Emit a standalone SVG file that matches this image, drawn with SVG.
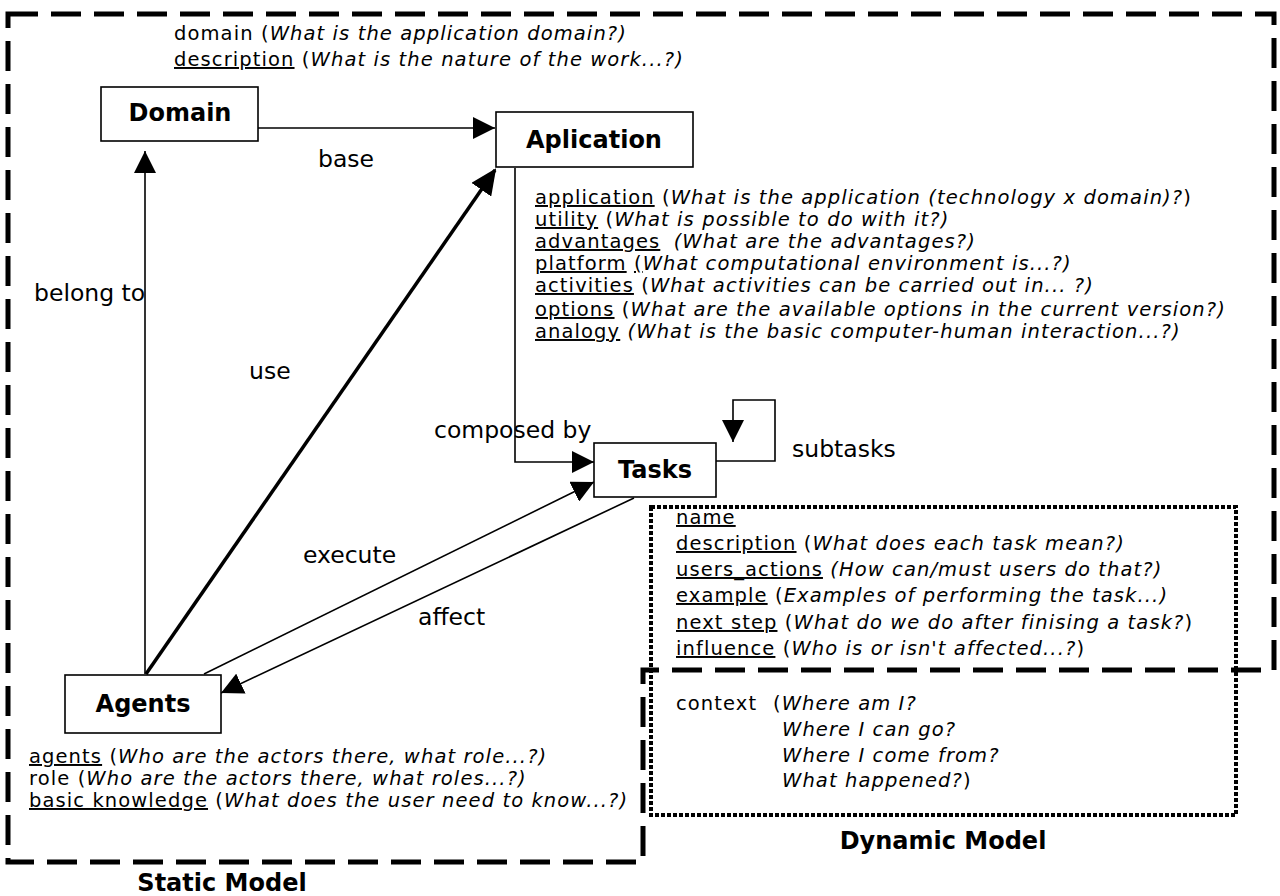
<svg xmlns="http://www.w3.org/2000/svg" width="1280" height="896" viewBox="0 0 1280 896">
<defs>
<style>
.t{font-family:"DejaVu Sans",Verdana,sans-serif;font-size:19.5px;letter-spacing:1.1px;fill:#000}
.i{font-style:italic}
.u{text-decoration:underline}
.lbl{font-family:"DejaVu Sans",Verdana,sans-serif;font-size:23.5px;fill:#000}
.node rect{fill:#fff;stroke:#000;stroke-width:1.6}
.node text{font-family:"DejaVu Sans",Verdana,sans-serif;font-weight:bold;font-size:24px;text-anchor:middle;fill:#000}
.title{font-family:"DejaVu Sans",Verdana,sans-serif;font-weight:bold;font-size:24px;text-anchor:middle;fill:#000}
.ln{fill:none;stroke:#000;stroke-width:1.6}
.thick{fill:none;stroke:#000;stroke-width:3.5}
.static{fill:none;stroke:#000;stroke-width:5;stroke-dasharray:30 13}
.dyn{fill:none;stroke:#000;stroke-width:4;stroke-dasharray:4 2}
</style>
<marker id="ah" markerUnits="userSpaceOnUse" markerWidth="22" markerHeight="22" refX="22" refY="11" orient="auto">
<path d="M0,0 L22,11 L0,22 z" fill="#000"/>
</marker>
<marker id="ahb" markerUnits="userSpaceOnUse" markerWidth="26" markerHeight="24" refX="24" refY="12" orient="auto">
<path d="M0,0 L26,12 L0,24 z" fill="#000"/>
</marker>
</defs>
<rect width="1280" height="896" fill="#fff"/>

<g id="static-model">
<path class="static" d="M8,14 H1274 V670 H643 V862 H8 Z"/>
<text class="title" x="222" y="891">Static Model</text>
</g>

<g id="dynamic-model">
<rect class="dyn" x="651" y="507" width="585" height="308"/>
<text class="title" x="943" y="849">Dynamic Model</text>
</g>

<g id="connectors">
<line class="ln" x1="257" y1="128" x2="495" y2="128" marker-end="url(#ah)"/>
<line class="ln" x1="145" y1="674" x2="145" y2="151" marker-end="url(#ah)"/>
<line class="thick" x1="146" y1="674" x2="495" y2="170" marker-end="url(#ahb)"/>
<path class="ln" d="M515,168 V462 H594" marker-end="url(#ah)"/>
<line class="ln" x1="204" y1="674" x2="594" y2="482" marker-end="url(#ah)"/>
<line class="ln" x1="634" y1="498" x2="221" y2="693" marker-end="url(#ah)"/>
<path class="ln" d="M716,461 H775 V400 H733 V442" marker-end="url(#ah)"/>
<text class="lbl" x="318" y="167">base</text>
<text class="lbl" x="34" y="301">belong to</text>
<text class="lbl" x="249" y="379">use</text>
<text class="lbl" x="434" y="438">composed by</text>
<text class="lbl" x="792" y="457">subtasks</text>
<text class="lbl" x="303" y="563">execute</text>
<text class="lbl" x="418" y="625">affect</text>
</g>

<g id="domain" class="node">
<rect x="101" y="87" width="157" height="54"/>
<text x="180" y="121">Domain</text>
</g>
<g id="domain-attrs">
<text class="t" x="174" y="40">domain (<tspan class="i">What is the application domain?)</tspan></text>
<text class="t" x="174" y="66"><tspan class="u">description</tspan> (<tspan class="i">What is the nature of the work...?)</tspan></text>
</g>

<g id="aplication" class="node">
<rect x="496" y="112" width="197" height="55"/>
<text x="594" y="148">Aplication</text>
</g>
<g id="aplication-attrs">
<text class="t" x="535" y="204"><tspan class="u">application</tspan> (<tspan class="i">What is the application (technology x domain)?</tspan>)</text>
<text class="t" x="535" y="226"><tspan class="u">utility</tspan> (<tspan class="i">What is possible to do with it?)</tspan></text>
<text class="t" x="535" y="248"><tspan class="u">advantages</tspan> <tspan class="i" dx="6">(What are the advantages?)</tspan></text>
<text class="t" x="535" y="270"><tspan class="u">platform</tspan> <tspan class="u">(</tspan><tspan class="i">What computational environment is...?)</tspan></text>
<text class="t" x="535" y="292"><tspan class="u">activities</tspan> (<tspan class="i">What activities can be carried out in... ?)</tspan></text>
<text class="t" x="535" y="316"><tspan class="u">options</tspan> (<tspan class="i">What are the available options in the current version?)</tspan></text>
<text class="t" x="535" y="338"><tspan class="u">analogy</tspan> <tspan class="i">(What is the basic computer-human interaction...?)</tspan></text>
</g>

<g id="tasks" class="node">
<rect x="594" y="443" width="122" height="54"/>
<text x="655" y="478">Tasks</text>
</g>
<g id="tasks-attrs">
<text class="t" x="676" y="524"><tspan class="u">name</tspan></text>
<text class="t" x="676" y="550"><tspan class="u">description</tspan> (<tspan class="i">What does each task mean?)</tspan></text>
<text class="t" x="676" y="576"><tspan class="u">users_actions</tspan> <tspan class="i">(How can/must users do that?)</tspan></text>
<text class="t" x="676" y="602"><tspan class="u">example</tspan> (<tspan class="i">Examples of performing the task...)</tspan></text>
<text class="t" x="676" y="629"><tspan class="u">next step</tspan> (<tspan class="i">What do we do after finising a task?</tspan>)</text>
<text class="t" x="676" y="655"><tspan class="u">influence</tspan> (<tspan class="i">Who is or isn't affected...?</tspan>)</text>
</g>

<g id="context">
<text class="t" x="676" y="710">context</text>
<text class="t" x="773" y="710">(<tspan class="i">Where am I?</tspan></text>
<text class="t i" x="782" y="736">Where I can go?</text>
<text class="t i" x="782" y="762">Where I come from?</text>
<text class="t" x="782" y="787"><tspan class="i">What happened?</tspan>)</text>
</g>

<g id="agents" class="node">
<rect x="65" y="675" width="156" height="58"/>
<text x="143" y="712">Agents</text>
</g>
<g id="agents-attrs">
<text class="t" x="29" y="763"><tspan class="u">agents</tspan> (<tspan class="i">Who are the actors there, what role...?)</tspan></text>
<text class="t" x="29" y="785">role (<tspan class="i">Who are the actors there, what roles...?)</tspan></text>
<text class="t" x="29" y="807"><tspan class="u">basic knowledge</tspan> (<tspan class="i">What does the user need to know...?)</tspan></text>
</g>
</svg>
